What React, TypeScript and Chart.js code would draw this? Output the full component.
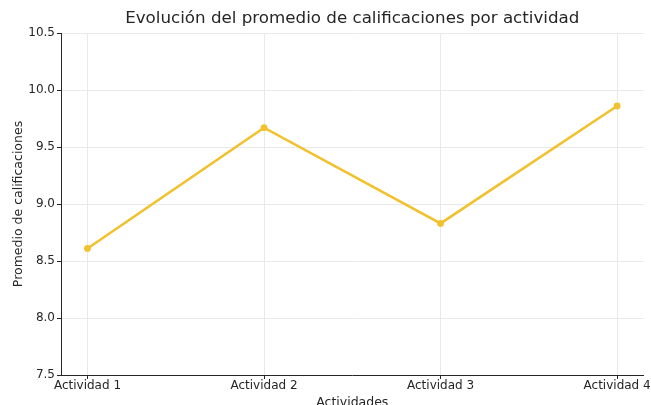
import React, { useEffect, useRef } from "react";
import { Chart, registerables } from "chart.js";

Chart.register(...registerables);

const categories = ["Actividad 1", "Actividad 2", "Actividad 3", "Actividad 4"];
const promedios = [8.61, 9.67, 8.83, 9.86];
const yTicks = [7.5, 8.0, 8.5, 9.0, 9.5, 10.0, 10.5];

const FONT = "'DejaVu Sans', sans-serif";
const TEXT = "#262626";
const GRID = "#e9e9e9";
const LINE = "#f2c12e";

export default function App() {
  const ref = useRef<HTMLCanvasElement | null>(null);

  useEffect(() => {
    document.body.style.margin = "0";
    const canvas = ref.current;
    if (!canvas) return;
    const chart = new Chart(canvas, {
      type: "line",
      data: {
        datasets: [
          {
            label: "Promedio",
            data: promedios.map((v, i) => ({ x: i, y: v })),
            borderColor: LINE,
            backgroundColor: LINE,
            borderWidth: 2.6,
            pointRadius: 3.4,
            pointBorderWidth: 0,
            pointBackgroundColor: LINE,
            tension: 0,
          },
        ],
      },
      options: {
        responsive: false,
        animation: false,
        layout: { padding: { left: 0, right: 6, top: 0, bottom: -5 } },
        plugins: {
          legend: { display: false },
          tooltip: { enabled: false },
          title: {
            display: true,
            fullSize: false,
            text: "Evolución del promedio de calificaciones por actividad",
            color: TEXT,
            font: { family: FONT, size: 16.7, weight: "normal" },
            padding: { top: 9, bottom: 4 },
          },
        },
        scales: {
          x: {
            type: "linear",
            min: -0.15,
            max: 3.15,
            afterBuildTicks: (scale: any) => {
              scale.ticks = categories.map((_, i) => ({ value: i }));
            },
            afterFit: (scale: any) => {
              scale.height = 35;
            },
            ticks: {
              color: TEXT,
              font: { family: FONT, size: 12 },
              padding: 0,
              maxRotation: 0,
              autoSkip: false,
              callback: (v: any) => categories[Math.round(Number(v))] ?? "",
            },
            grid: { color: GRID, tickColor: TEXT, tickLength: 4, lineWidth: 1 },
            border: { display: true, color: TEXT, width: 1 },
            title: {
              display: true,
              text: "Actividades",
              color: TEXT,
              font: { family: FONT, size: 12.5 },
              padding: { top: 0, bottom: 0 },
            },
          },
          y: {
            type: "linear",
            min: 7.5,
            max: 10.5,
            afterBuildTicks: (scale: any) => {
              scale.ticks = yTicks.map((v) => ({ value: v }));
            },
            afterFit: (scale: any) => {
              scale.width = 61;
            },
            ticks: {
              color: TEXT,
              font: { family: FONT, size: 12 },
              padding: 2,
              callback: (v: any) => Number(v).toFixed(1),
            },
            grid: { color: GRID, tickColor: TEXT, tickLength: 4, lineWidth: 1 },
            border: { display: true, color: TEXT, width: 1 },
            title: {
              display: true,
              text: "Promedio de calificaciones",
              color: TEXT,
              font: { family: FONT, size: 12.5 },
              padding: { top: 11, bottom: 0 },
            },
          },
        },
      },
    });
    return () => chart.destroy();
  }, []);

  return (
    <div style={{ width: 651, height: 405 }}>
      <canvas ref={ref} width={651} height={405} style={{ display: "block" }} />
    </div>
  );
}
